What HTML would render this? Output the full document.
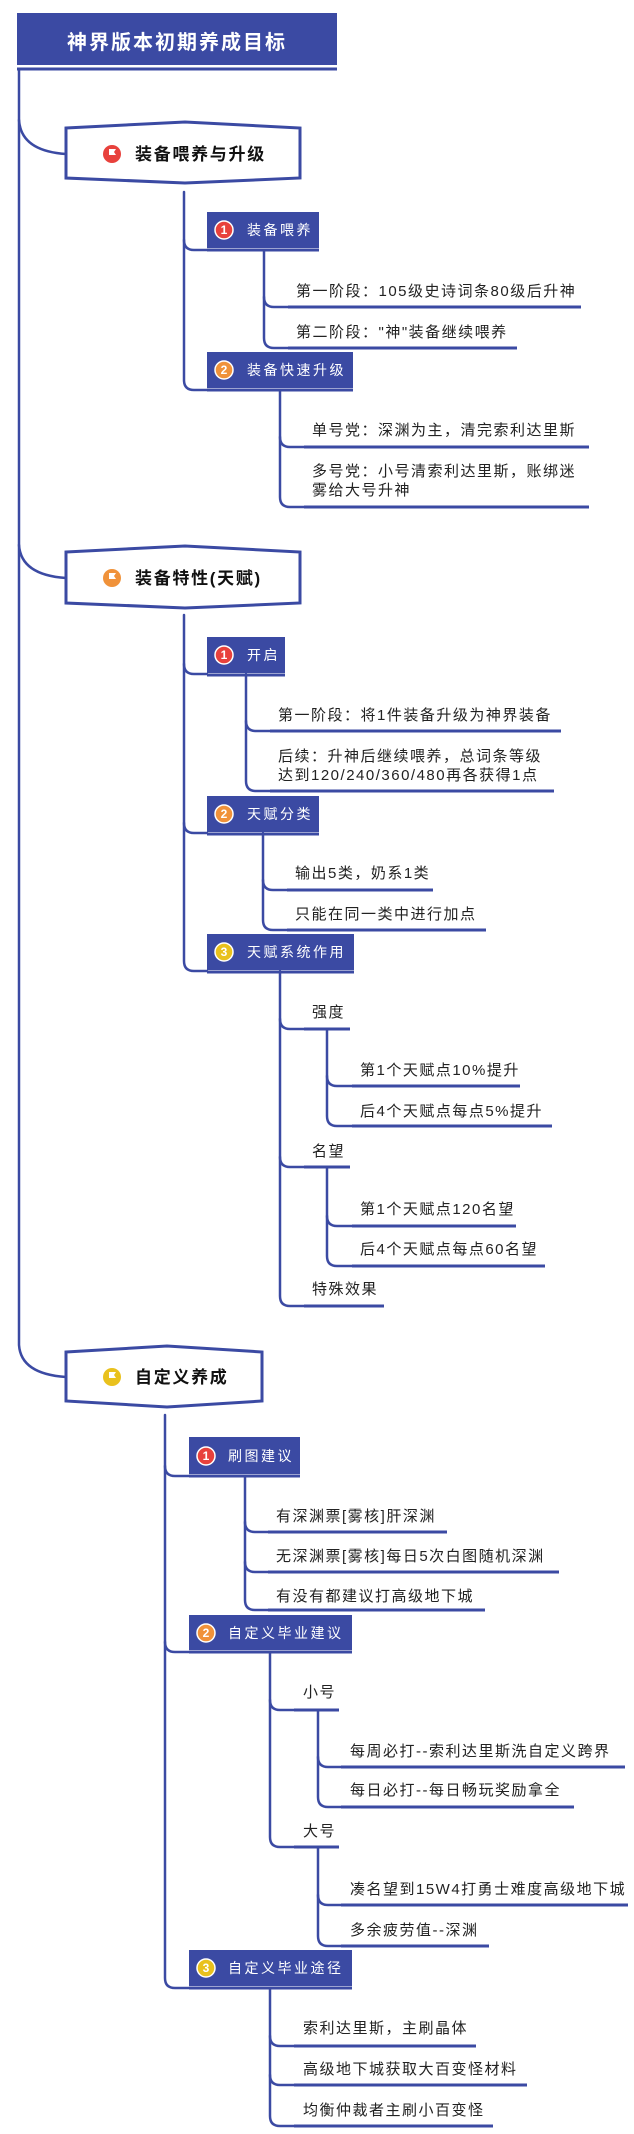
<!DOCTYPE html>
<html><head><meta charset="utf-8"><style>
html,body{margin:0;padding:0;background:#fff;}
svg{display:block;}
.t{font-family:"Liberation Sans","Noto Sans CJK SC",sans-serif;}
.lf{font-size:15px;fill:#222;letter-spacing:1.5px;}
.l2{font-size:14px;fill:#fff;letter-spacing:2.5px;}
.l1{font-size:17px;font-weight:bold;fill:#111;letter-spacing:1.7px;}
.ln{fill:none;stroke:#3b4aa3;stroke-width:2.5;stroke-linecap:round;}
.ul{stroke:#3b4aa3;stroke-width:3;}
.bd{font-size:12px;font-weight:bold;fill:#fff;text-anchor:middle;}
</style></head><body>
<svg width="634" height="2134" viewBox="0 0 634 2134" xmlns="http://www.w3.org/2000/svg">
<!-- title -->
<rect x="17" y="13" width="320" height="52" fill="#3b4aa3"/>
<line x1="17" y1="69" x2="337" y2="69" class="ul"/>
<text x="177" y="49" class="t" text-anchor="middle" font-size="20" font-weight="bold" fill="#fff" letter-spacing="2">神界版本初期养成目标</text>
<!-- main trunk -->
<path class="ln" d="M19,69 V1345 Q21,1374 66,1377"/>
<path class="ln" d="M19,120 Q21,151 66,154"/>
<path class="ln" d="M19,545 Q21,575 66,578"/>
<!-- L1 nodes -->
<polygon points="66,128 185,122 300,128 300,178 185,183 66,178" fill="#fff" stroke="#3b4aa3" stroke-width="3"/>
<circle cx="112" cy="154" r="9" fill="#e8413c"/><path d="M109,159 V149 H116 L114,152 L116,155 H109" fill="#fff"/>
<text x="135" y="160" class="t l1">装备喂养与升级</text>
<polygon points="66,552 185,546 300,552 300,603 185,608 66,603" fill="#fff" stroke="#3b4aa3" stroke-width="3"/>
<circle cx="112" cy="578" r="9" fill="#f0923a"/><path d="M109,583 V573 H116 L114,576 L116,579 H109" fill="#fff"/>
<text x="135" y="584" class="t l1">装备特性(天赋)</text>
<polygon points="66,1352 167,1346 262,1352 262,1401 167,1407 66,1401" fill="#fff" stroke="#3b4aa3" stroke-width="3"/>
<circle cx="112" cy="1377" r="9" fill="#e9c11d"/><path d="M109,1382 V1372 H116 L114,1375 L116,1378 H109" fill="#fff"/>
<text x="135" y="1383" class="t l1">自定义养成</text>

<!-- connectors -->
<g class="ln">
<!-- G1 -->
<path d="M184,192 V240 Q184,250 194,250 H207"/>
<path d="M184,240 V380 Q184,390 194,390 H207"/>
<path d="M264,250 V297 Q264,307 274,307 H288"/>
<path d="M264,297 V338 Q264,348 274,348 H288"/>
<path d="M280,390 V437 Q280,447 290,447 H304"/>
<path d="M280,437 V497 Q280,507 290,507 H304"/>
<!-- G2 -->
<path d="M184,615 V664 Q184,674 194,674 H207"/>
<path d="M184,664 V823 Q184,833 194,833 H207"/>
<path d="M184,823 V961 Q184,971 194,971 H207"/>
<path d="M246,674 V721 Q246,731 256,731 H270"/>
<path d="M246,721 V781 Q246,791 256,791 H270"/>
<path d="M263,833 V880 Q263,890 273,890 H287"/>
<path d="M263,880 V920 Q263,930 273,930 H287"/>
<path d="M280,971 V1019 Q280,1029 290,1029 H304"/>
<path d="M280,1019 V1157 Q280,1167 290,1167 H304"/>
<path d="M280,1157 V1296 Q280,1306 290,1306 H304"/>
<path d="M327,1029 V1076 Q327,1086 337,1086 H352"/>
<path d="M327,1076 V1116 Q327,1126 337,1126 H352"/>
<path d="M327,1167 V1216 Q327,1226 337,1226 H352"/>
<path d="M327,1216 V1256 Q327,1266 337,1266 H352"/>
<!-- G3 -->
<path d="M165,1415 V1466 Q165,1476 175,1476 H189"/>
<path d="M165,1466 V1642 Q165,1652 175,1652 H189"/>
<path d="M165,1642 V1978 Q165,1988 175,1988 H189"/>
<path d="M245,1476 V1522 Q245,1532 255,1532 H268"/>
<path d="M245,1522 V1562 Q245,1572 255,1572 H268"/>
<path d="M245,1562 V1600 Q245,1610 255,1610 H268"/>
<path d="M270,1652 V1700 Q270,1710 280,1710 H294"/>
<path d="M270,1700 V1837 Q270,1847 280,1847 H294"/>
<path d="M318,1710 V1757 Q318,1767 328,1767 H341"/>
<path d="M318,1757 V1797 Q318,1807 328,1807 H341"/>
<path d="M318,1847 V1895 Q318,1905 328,1905 H341"/>
<path d="M318,1895 V1936 Q318,1946 328,1946 H341"/>
<path d="M270,1988 V2036 Q270,2046 280,2046 H294"/>
<path d="M270,2036 V2075 Q270,2085 280,2085 H294"/>
<path d="M270,2075 V2116 Q270,2126 280,2126 H294"/>
</g>

<!-- underlines -->
<g class="ul">
<line x1="288" y1="307" x2="581" y2="307"/>
<line x1="288" y1="348" x2="517" y2="348"/>
<line x1="304" y1="447" x2="589" y2="447"/>
<line x1="304" y1="507" x2="589" y2="507"/>
<line x1="270" y1="731" x2="561" y2="731"/>
<line x1="270" y1="791" x2="554" y2="791"/>
<line x1="287" y1="890" x2="433" y2="890"/>
<line x1="287" y1="930" x2="486" y2="930"/>
<line x1="304" y1="1029" x2="350" y2="1029"/>
<line x1="304" y1="1167" x2="350" y2="1167"/>
<line x1="304" y1="1306" x2="384" y2="1306"/>
<line x1="352" y1="1086" x2="520" y2="1086"/>
<line x1="352" y1="1126" x2="552" y2="1126"/>
<line x1="352" y1="1226" x2="516" y2="1226"/>
<line x1="352" y1="1266" x2="545" y2="1266"/>
<line x1="268" y1="1532" x2="447" y2="1532"/>
<line x1="268" y1="1572" x2="559" y2="1572"/>
<line x1="268" y1="1610" x2="485" y2="1610"/>
<line x1="294" y1="1710" x2="339" y2="1710"/>
<line x1="294" y1="1847" x2="339" y2="1847"/>
<line x1="341" y1="1767" x2="625" y2="1767"/>
<line x1="341" y1="1807" x2="574" y2="1807"/>
<line x1="341" y1="1905" x2="628" y2="1905"/>
<line x1="341" y1="1946" x2="489" y2="1946"/>
<line x1="294" y1="2046" x2="476" y2="2046"/>
<line x1="294" y1="2085" x2="527" y2="2085"/>
<line x1="294" y1="2126" x2="493" y2="2126"/>
<!-- L2 underlines -->
<line x1="207" y1="250" x2="319" y2="250"/>
<line x1="207" y1="390" x2="353" y2="390"/>
<line x1="207" y1="675" x2="285" y2="675"/>
<line x1="207" y1="834" x2="319" y2="834"/>
<line x1="207" y1="972" x2="354" y2="972"/>
<line x1="189" y1="1476" x2="300" y2="1476"/>
<line x1="189" y1="1652" x2="352" y2="1652"/>
<line x1="189" y1="1988" x2="352" y2="1988"/>
</g>

<!-- L2 boxes -->
<g fill="#3b4aa3">
<rect x="207" y="212" width="112" height="36"/>
<rect x="207" y="352" width="146" height="36"/>
<rect x="207" y="637" width="78" height="36"/>
<rect x="207" y="796" width="112" height="36"/>
<rect x="207" y="934" width="147" height="36"/>
<rect x="189" y="1437" width="111" height="37"/>
<rect x="189" y="1615" width="163" height="35"/>
<rect x="189" y="1950" width="163" height="36"/>
</g>
<g stroke="#fff" stroke-width="1.5">
<circle cx="224" cy="230" r="9" fill="#e8413c"/>
<circle cx="224" cy="370" r="9" fill="#f0923a"/>
<circle cx="224" cy="655" r="9" fill="#e8413c"/>
<circle cx="224" cy="814" r="9" fill="#f0923a"/>
<circle cx="224" cy="952" r="9" fill="#e9c11d"/>
<circle cx="206" cy="1456" r="9" fill="#e8413c"/>
<circle cx="206" cy="1633" r="9" fill="#f0923a"/>
<circle cx="206" cy="1968" r="9" fill="#e9c11d"/>
</g>
<g class="t bd">
<text x="224" y="234">1</text><text x="224" y="374">2</text>
<text x="224" y="659">1</text><text x="224" y="818">2</text><text x="224" y="956">3</text>
<text x="206" y="1460">1</text><text x="206" y="1637">2</text><text x="206" y="1972">3</text>
</g>
<g class="t l2">
<text x="247" y="235">装备喂养</text>
<text x="247" y="375">装备快速升级</text>
<text x="247" y="660">开启</text>
<text x="247" y="819">天赋分类</text>
<text x="247" y="957">天赋系统作用</text>
<text x="228" y="1461">刷图建议</text>
<text x="228" y="1638">自定义毕业建议</text>
<text x="228" y="1973">自定义毕业途径</text>
</g>

<!-- leaf texts -->
<g class="t lf">
<text x="296" y="296">第一阶段：105级史诗词条80级后升神</text>
<text x="296" y="337">第二阶段："神"装备继续喂养</text>
<text x="312" y="435">单号党：深渊为主，清完索利达里斯</text>
<text x="312" y="476">多号党：小号清索利达里斯，账绑迷</text>
<text x="312" y="495">雾给大号升神</text>
<text x="278" y="720">第一阶段：将1件装备升级为神界装备</text>
<text x="278" y="761">后续：升神后继续喂养，总词条等级</text>
<text x="278" y="780">达到120/240/360/480再各获得1点</text>
<text x="295" y="878">输出5类，奶系1类</text>
<text x="295" y="919">只能在同一类中进行加点</text>
<text x="312" y="1017">强度</text>
<text x="360" y="1075">第1个天赋点10%提升</text>
<text x="360" y="1116">后4个天赋点每点5%提升</text>
<text x="312" y="1156">名望</text>
<text x="360" y="1214">第1个天赋点120名望</text>
<text x="360" y="1254">后4个天赋点每点60名望</text>
<text x="312" y="1294">特殊效果</text>
<text x="276" y="1521">有深渊票[雾核]肝深渊</text>
<text x="276" y="1561">无深渊票[雾核]每日5次白图随机深渊</text>
<text x="276" y="1601">有没有都建议打高级地下城</text>
<text x="303" y="1697">小号</text>
<text x="350" y="1756">每周必打--索利达里斯洗自定义跨界</text>
<text x="350" y="1795">每日必打--每日畅玩奖励拿全</text>
<text x="303" y="1836">大号</text>
<text x="350" y="1894">凑名望到15W4打勇士难度高级地下城</text>
<text x="350" y="1935">多余疲劳值--深渊</text>
<text x="303" y="2033">索利达里斯，主刷晶体</text>
<text x="303" y="2074">高级地下城获取大百变怪材料</text>
<text x="303" y="2115">均衡仲裁者主刷小百变怪</text>
</g>
</svg>
</body></html>
